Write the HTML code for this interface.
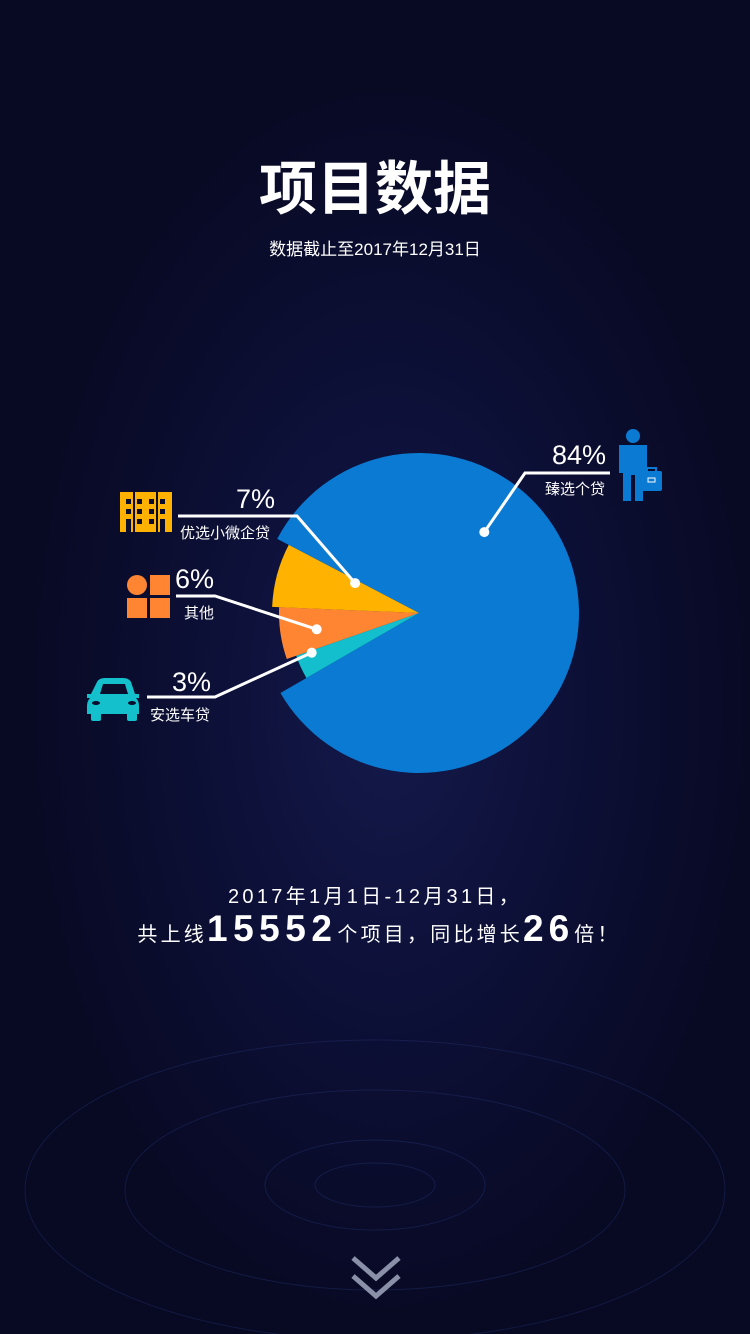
<!DOCTYPE html>
<html><head><meta charset="utf-8">
<style>
html,body{margin:0;padding:0;}
body{width:750px;height:1334px;overflow:hidden;position:relative;
background:radial-gradient(ellipse 380px 650px at 390px 700px,#141a4c 0%,#0d1038 45%,#080922 100%);
font-family:"Liberation Sans","Noto Sans CJK SC",sans-serif;color:#fff;}
.t{position:absolute;white-space:nowrap;}
</style></head>
<body>
<div class="t" style="left:0;width:750px;text-align:center;top:142px;font-size:58px;font-weight:bold;">项目数据</div>
<div class="t" style="left:0;width:750px;text-align:center;top:235px;font-size:17px;">数据截止至2017年12月31日</div>

<svg id="chart" width="750" height="1334" style="position:absolute;left:0;top:0">
 <g id="glow" fill="none" stroke="#22306a" stroke-opacity="0.45">
  <ellipse cx="375" cy="1190" rx="350" ry="150"/>
  <ellipse cx="375" cy="1190" rx="250" ry="100"/>
  <ellipse cx="375" cy="1185" rx="110" ry="45"/>
  <ellipse cx="375" cy="1185" rx="60" ry="22"/>
 </g>
 <g id="slices"></g>
 <g id="labels" stroke="#fff" stroke-width="3" fill="none"></g>
 <g fill="none" stroke="#8a90a8" stroke-width="5">
  <polyline points="353,1258 376,1278 399,1258"/>
  <polyline points="353,1276 376,1296 399,1276"/>
 </g>
</svg>

<svg class="t" style="left:615px;top:428px" width="50" height="75" viewBox="0 0 50 75">
 <g fill="#0a7ad2"><circle cx="18" cy="8" r="7"/><path d="M4 17h28v28h-4v28h-8v-26h-4v26h-8v-28h-4z"/><rect x="26" y="43" width="21" height="20" rx="2"/></g>
 <path d="M32 43v-3h9v3" stroke="#0a7ad2" fill="none" stroke-width="2"/><rect x="33" y="50" width="7" height="4" fill="none" stroke="#fff"/>
</svg>
<svg class="t" style="left:120px;top:492px" width="52" height="42" viewBox="0 0 52 42">
 <rect x="0" y="0" width="52" height="40" fill="#ffb300"/>
 <g fill="#0b0d2c"><rect x="6" y="7" width="5" height="5"/><rect x="17" y="7" width="5" height="5"/><rect x="29" y="7" width="5" height="5"/><rect x="40" y="7" width="5" height="5"/><rect x="6" y="17" width="5" height="5"/><rect x="17" y="17" width="5" height="5"/><rect x="29" y="17" width="5" height="5"/><rect x="40" y="17" width="5" height="5"/><rect x="6" y="27" width="5" height="13"/><rect x="17" y="27" width="5" height="5"/><rect x="29" y="27" width="5" height="5"/><rect x="40" y="27" width="5" height="13"/><rect x="13" y="0" width="2" height="40"/><rect x="36" y="0" width="2" height="40"/></g>
</svg>
<svg class="t" style="left:127px;top:575px" width="44" height="44">
 <g fill="#ff8533"><circle cx="10" cy="10" r="10"/><rect x="23" y="0" width="20" height="20"/><rect x="0" y="23" width="20" height="20"/><rect x="23" y="23" width="20" height="20"/></g>
</svg>
<svg class="t" style="left:87px;top:678px" width="54" height="44" viewBox="0 0 54 44">
 <g fill="#14c0cc"><path d="M10 4Q12 0 18 0h18q6 0 8 4l4 12h4v4h-3q3 3 3 8v8H0v-8q0-5 3-8H0v-4h4z"/><rect x="4" y="34" width="10" height="9" rx="2"/><rect x="40" y="34" width="10" height="9" rx="2"/></g>
 <path d="M13 16l3-10h22l3 10z" fill="#0b0d2c"/><ellipse cx="9" cy="25" rx="4" ry="2" fill="#0b0d2c"/><ellipse cx="45" cy="25" rx="4" ry="2" fill="#0b0d2c"/>
</svg>

<div class="t" style="left:552px;top:440px;font-size:27px;">84%</div>
<div class="t" style="left:545px;top:478px;font-size:15px;">臻选个贷</div>
<div class="t" style="left:236px;top:484px;font-size:27px;">7%</div>
<div class="t" style="left:180px;top:522px;font-size:15px;">优选小微企贷</div>
<div class="t" style="left:175px;top:564px;font-size:27px;">6%</div>
<div class="t" style="left:184px;top:602px;font-size:15px;">其他</div>
<div class="t" style="left:172px;top:667px;font-size:27px;">3%</div>
<div class="t" style="left:150px;top:704px;font-size:15px;">安选车贷</div>

<div class="t" style="left:0;width:750px;text-align:center;top:880px;font-size:20px;letter-spacing:3.3px;">2017年1月1日-12月31日，</div>
<div class="t" style="left:4px;width:750px;text-align:center;top:908px;font-size:20px;letter-spacing:3.2px;">共上线<b style="font-size:37px;letter-spacing:5.5px;">15552</b>个项目，同比增长<b style="font-size:37px;letter-spacing:5px;">26</b>倍！</div>

<script>
const categories=["安选车贷","其他","优选小微企贷","臻选个贷"];
const values=[3,6,7,84];
const colors=["#13bfcc","#ff8533","#ffb300","#0a7ad2"];
const radii=[130,140,147,160];
const cx=419,cy=613,startDeg=150;
const ns="http://www.w3.org/2000/svg";
const total=values.reduce((a,b)=>a+b,0);
function ang(v){return v/total*360;}
function pt(deg,r){const a=deg*Math.PI/180;return [cx+r*Math.cos(a),cy+r*Math.sin(a)];}
const g=document.getElementById('slices');
let a0=startDeg;
const order=[3,0,1,2];
const starts=[];
values.forEach((v,i)=>{starts.push(a0);a0+=ang(v);});
order.forEach(i=>{
 const s=starts[i],e=s+ang(values[i]),r=radii[i];
 const p1=pt(s,r),p2=pt(e,r);
 const large=(e-s)>180?1:0;
 const p=document.createElementNS(ns,'path');
 p.setAttribute('d',`M${cx},${cy}L${p1[0]},${p1[1]}A${r},${r} 0 ${large} 1 ${p2[0]},${p2[1]}Z`);
 p.setAttribute('fill',colors[i]);
 
 
 g.appendChild(p);
});
const lg=document.getElementById('labels');
const ends=[[[215,697],[147,697]],[[215,596],[176,596]],[[297,516],[178,516]],[[525,473],[610,473]]];
const dotFrac=[0.9,0.47,0.9,0.335];
const dotR=[0.88,0.74,0.48,0.65];
values.forEach((v,i)=>{
 const mid=starts[i]+ang(v)*dotFrac[i];
 const d=pt(mid,radii[i]*dotR[i]);
 const pl=document.createElementNS(ns,'polyline');
 pl.setAttribute('points',`${d[0]},${d[1]} ${ends[i][0][0]},${ends[i][0][1]} ${ends[i][1][0]},${ends[i][1][1]}`);
 
 
 lg.appendChild(pl);
 const c=document.createElementNS(ns,'circle');
 c.setAttribute('cx',d[0]);c.setAttribute('cy',d[1]);c.setAttribute('r',5);
 c.setAttribute('fill','#fff');c.setAttribute('stroke','none');
 
 
 lg.appendChild(c);
});
</script>
</body></html>
